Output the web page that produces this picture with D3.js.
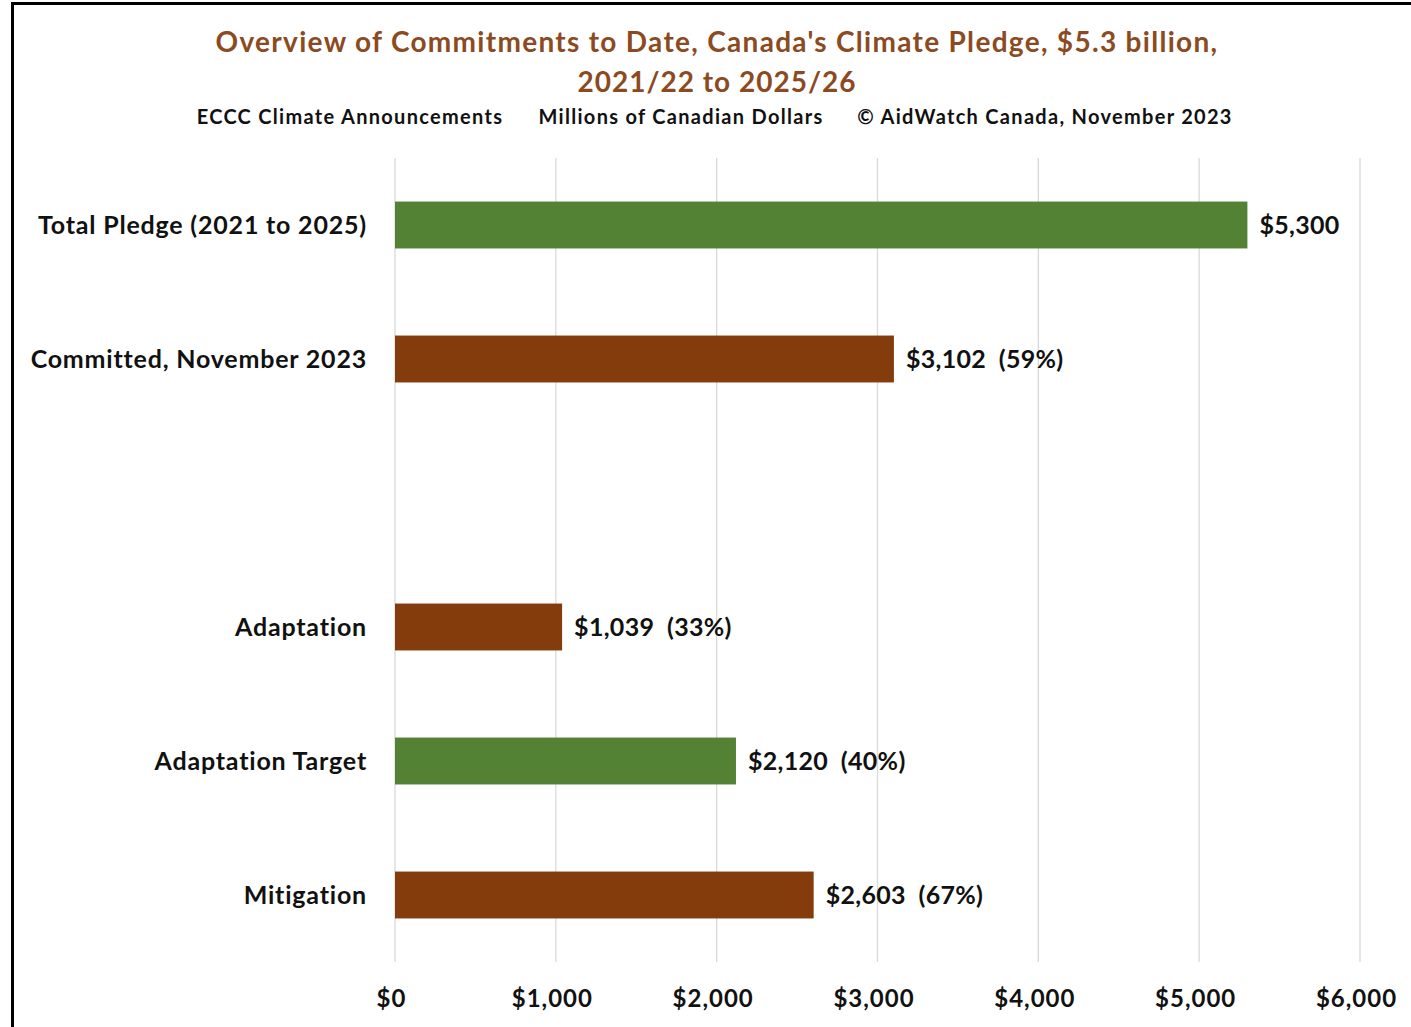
<!DOCTYPE html>
<html>
<head>
<meta charset="utf-8">
<script src="https://cdn.jsdelivr.net/npm/d3@7"></script>
<style>
  html, body { margin: 0; padding: 0; background: #fff; }
  svg text { font-family: Lato, "Open Sans", sans-serif; font-weight: 700; }
</style>
</head>
<body>
<svg id="chart" width="1411" height="1027"></svg>
<script>
// Chart content
const titleLines = ["Overview of Commitments to Date, Canada's Climate Pledge, $5.3 billion,", "2021/22 to 2025/26"];
const subtitleParts = ["ECCC Climate Announcements", "Millions of Canadian Dollars", "\u00A9 AidWatch Canada, November 2023"];

// One slot per row; the empty slot separates the totals from the breakdown
const categories = ["Total Pledge (2021 to 2025)", "Committed, November 2023", "", "Adaptation", "Adaptation Target", "Mitigation"];
const values = [5300, 3102, null, 1039, 2120, 2603];
const shares = [null, "59%", null, "33%", "40%", "67%"];
const kinds = ["target", "actual", null, "actual", "target", "actual"];

const tickValues = [0, 1000, 2000, 3000, 4000, 5000, 6000];
const tickLabels = ["$0", "$1,000", "$2,000", "$3,000", "$4,000", "$5,000", "$6,000"];

const colors = { target: "#548235", actual: "#843C0C" };

const svg = d3.select("#chart");

// Frame lines on the left and top edges
svg.append("line").attr("x1", 12.5).attr("x2", 12.5).attr("y1", 2).attr("y2", 1027)
  .attr("stroke", "#000").attr("stroke-width", 3);
svg.append("line").attr("x1", 11).attr("x2", 1411).attr("y1", 3.5).attr("y2", 3.5)
  .attr("stroke", "#000").attr("stroke-width", 3);

const plot = { left: 395, right: 1360, top: 158, bottom: 962 };

const x = d3.scaleLinear().domain([0, 6000]).range([plot.left, plot.right]);
const y = d3.scaleBand().domain(d3.range(categories.length)).range([plot.top, plot.bottom]).paddingInner(0.65).paddingOuter(0.325);

// Title
const titleSpacing = [1.3, 1.0];
svg.append("g").selectAll("text").data(titleLines).join("text")
  .attr("x", 717).attr("y", (d, i) => 52 + i * 40)
  .attr("text-anchor", "middle")
  .attr("fill", "#8B4A1F")
  .attr("font-size", 28)
  .attr("letter-spacing", (d, i) => titleSpacing[i])
  .text(d => d);

// Subtitle pieces
const subX = [350, 681, 1045];
svg.append("g").selectAll("text").data(subtitleParts).join("text")
  .attr("x", (d, i) => subX[i]).attr("y", 124)
  .attr("text-anchor", "middle")
  .attr("fill", "#111")
  .attr("font-size", 20)
  .attr("letter-spacing", 1.3)
  .text(d => d);

// Vertical gridlines
svg.append("g").selectAll("line").data(tickValues).join("line")
  .attr("x1", d => x(d)).attr("x2", d => x(d))
  .attr("y1", plot.top).attr("y2", plot.bottom)
  .attr("stroke", "#d9d9d9").attr("stroke-width", 1.3);

// Bottom axis: labels only
const axis = d3.axisBottom(x).tickValues(tickValues).tickSize(0).tickPadding(0)
  .tickFormat((d, i) => tickLabels[i]);
const axisG = svg.append("g").attr("transform", `translate(-4, ${plot.bottom + 28})`).call(axis);
axisG.select(".domain").remove();
axisG.selectAll("text")
  .attr("font-size", 24).attr("fill", "#111").attr("dy", "0.71em")
  .attr("letter-spacing", 1)
  .style("font-family", "Lato, 'Open Sans', sans-serif").style("font-weight", 700);

// Category labels
svg.append("g").selectAll("text").data(categories).join("text")
  .attr("x", plot.left - 28)
  .attr("y", (d, i) => y(i) + y.bandwidth() / 2)
  .attr("dy", "0.35em")
  .attr("text-anchor", "end")
  .attr("fill", "#111")
  .attr("font-size", 25)
  .attr("letter-spacing", 0.8)
  .text(d => d);

const rows = categories.map((c, i) => ({ i, value: values[i], share: shares[i], kind: kinds[i] }))
  .filter(d => d.value != null);

// Bars
svg.append("g").selectAll("rect").data(rows).join("rect")
  .attr("x", x(0))
  .attr("y", d => y(d.i))
  .attr("width", d => x(d.value) - x(0))
  .attr("height", y.bandwidth())
  .attr("fill", d => colors[d.kind]);

// Value labels
svg.append("g").selectAll("text").data(rows).join("text")
  .attr("x", d => x(d.value) + 12)
  .attr("y", d => y(d.i) + y.bandwidth() / 2)
  .attr("dy", "0.35em")
  .attr("fill", "#111")
  .attr("font-size", 25)
  .attr("letter-spacing", 0.3)
  .style("white-space", "pre")
  .text(d => "$" + d3.format(",")(d.value) + (d.share ? "  (" + d.share + ")" : ""));
</script>
</body>
</html>
